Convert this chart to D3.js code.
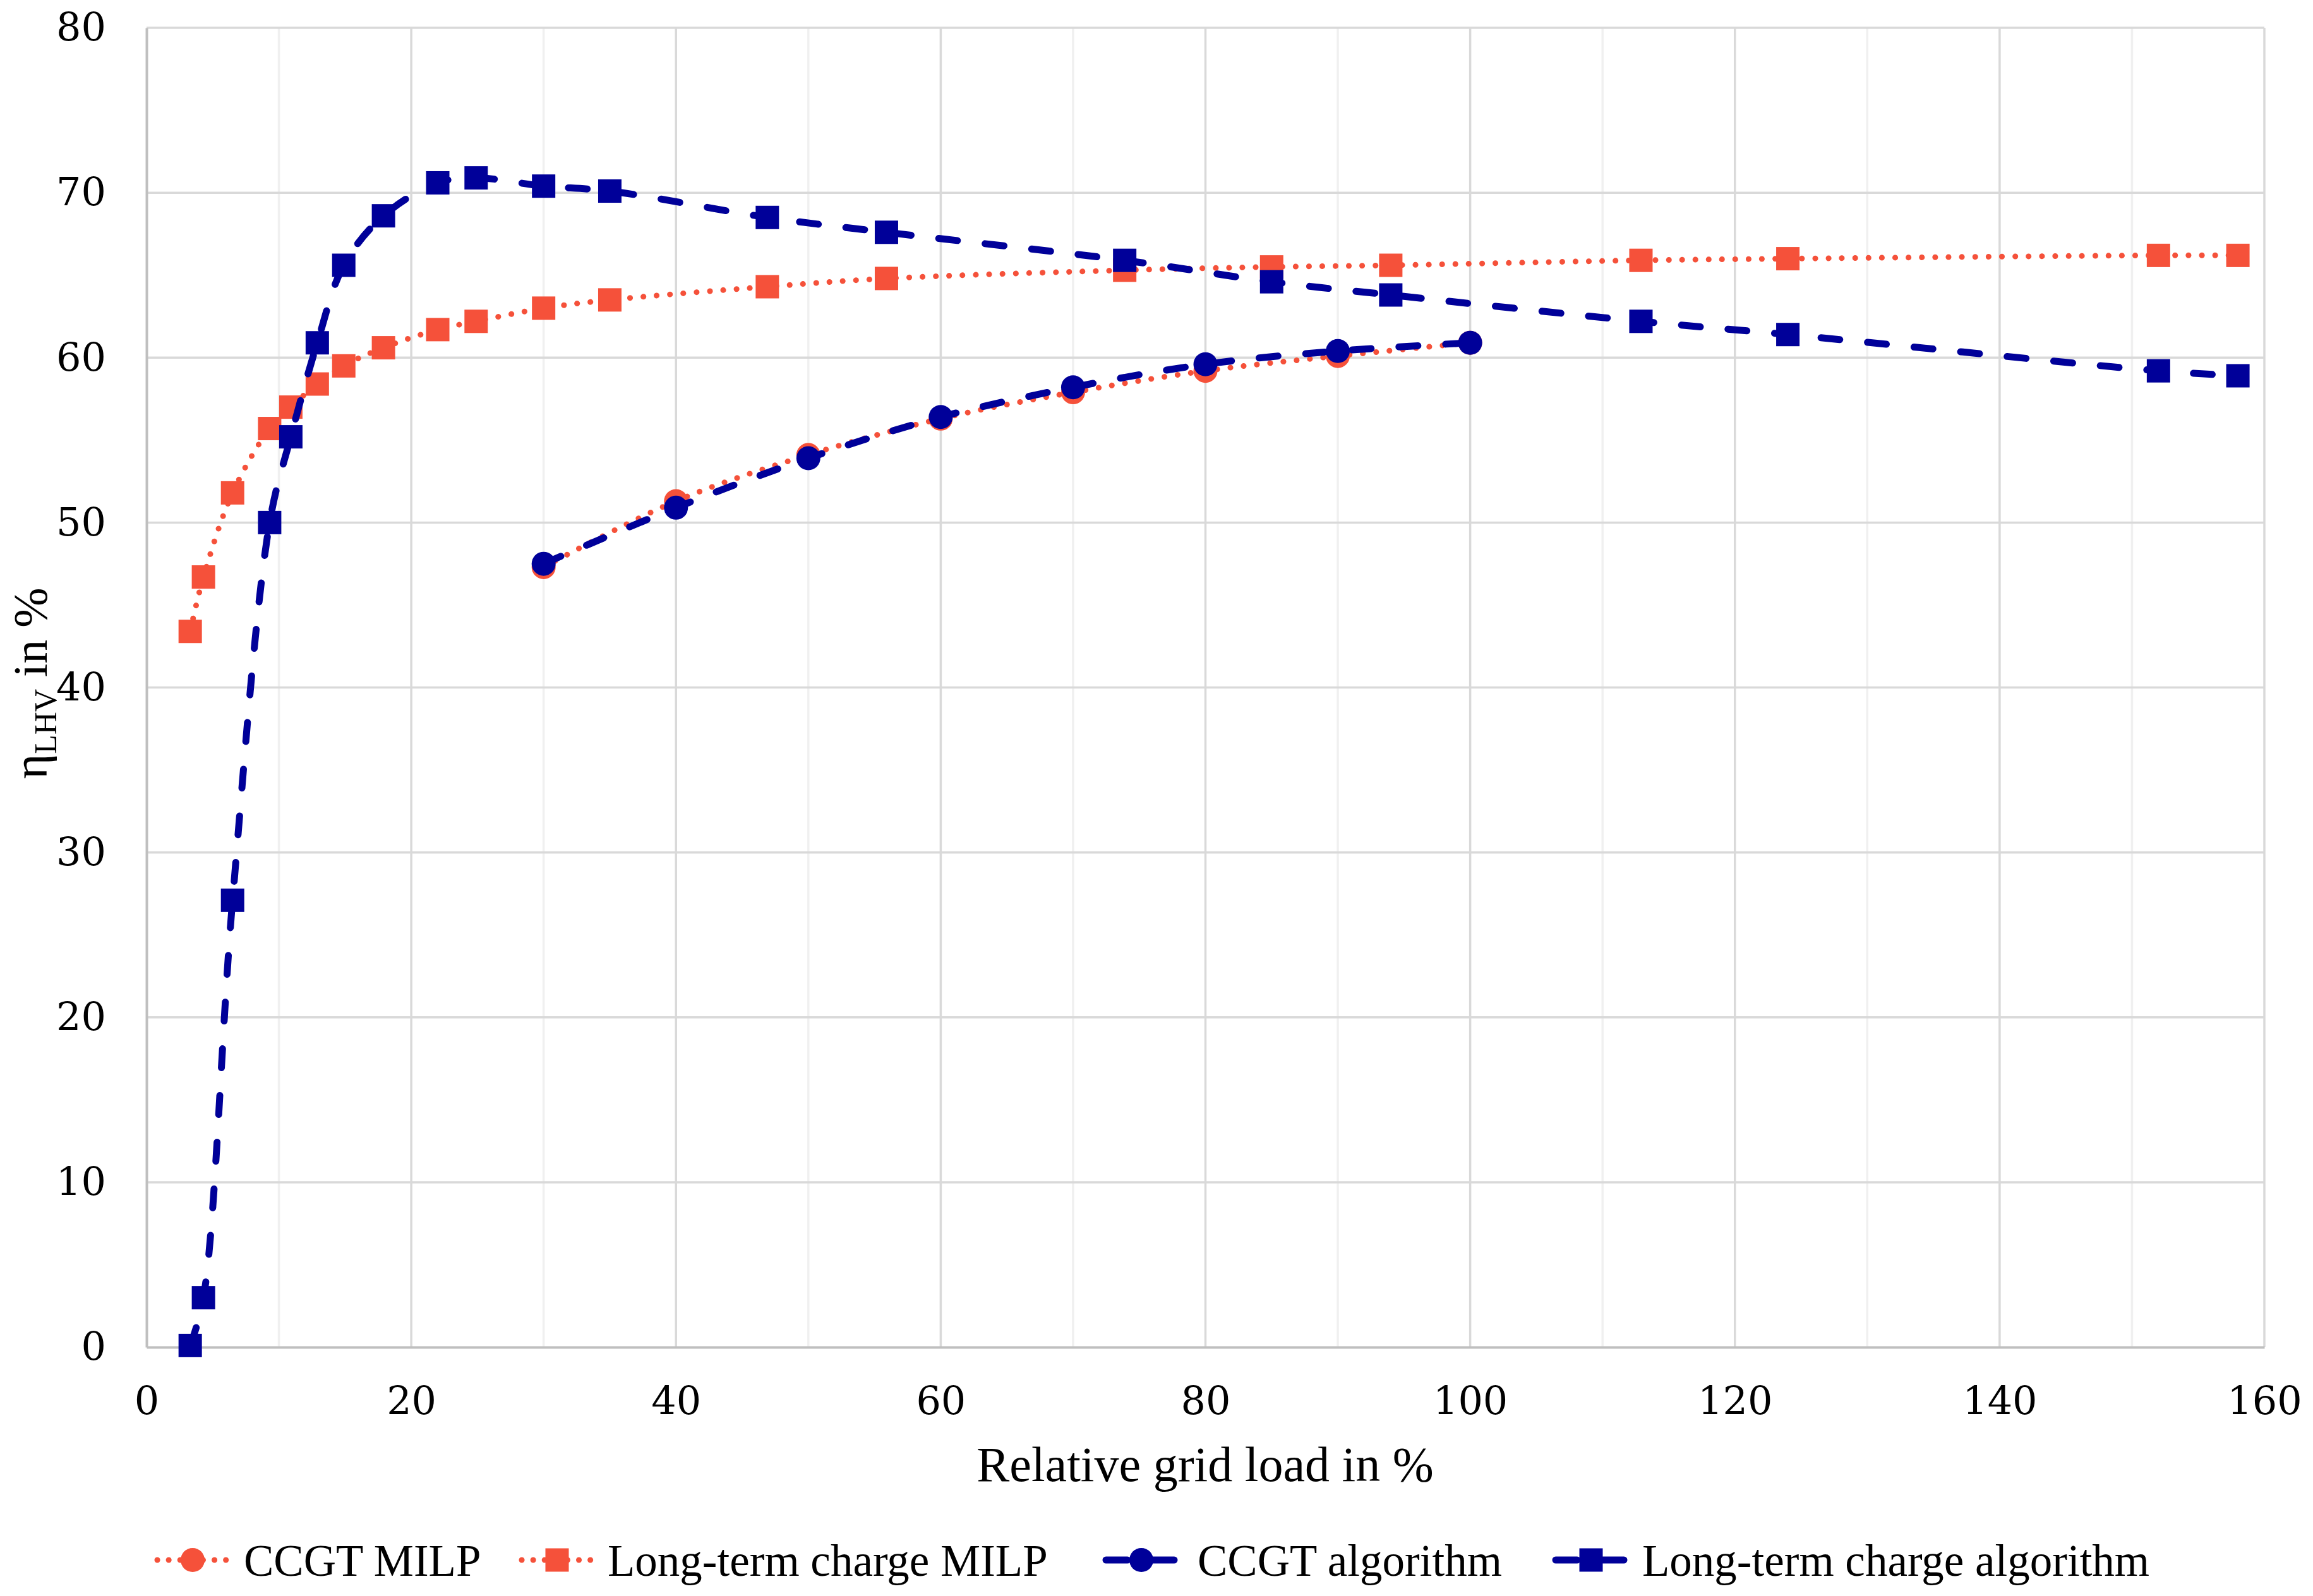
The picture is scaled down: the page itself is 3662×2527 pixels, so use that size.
<!DOCTYPE html>
<html>
<head>
<meta charset="utf-8">
<script src="https://cdn.jsdelivr.net/npm/d3@7"></script>
<style>
  body { margin: 0; background: #fff; }
  text { font-family: "Liberation Serif", "DejaVu Serif", serif; fill: #000; }
  .tick text { font-family: "DejaVu Serif", serif; }
</style>
</head>
<body>
<div id="chart"></div>
<script>
// x values of the long-term charge runs (relative grid load, %)
const ltLoad = [3.3, 4.3, 6.5, 9.3, 10.9, 12.9, 14.9, 17.9, 22, 24.9, 30, 35, 46.9, 55.9, 73.9, 85, 94, 112.9, 124, 152, 158];
const ltMilp = [43.4, 46.7, 51.8, 55.7, 57.0, 58.4, 59.5, 60.6, 61.7, 62.2, 63.0, 63.5, 64.3, 64.8, 65.3, 65.5, 65.6, 65.9, 66.0, 66.2, 66.2];
const ltAlgo = [0.1, 3.0, 27.1, 50.0, 55.2, 60.9, 65.6, 68.6, 70.6, 70.9, 70.4, 70.1, 68.5, 67.6, 65.9, 64.6, 63.8, 62.2, 61.4, 59.2, 58.9];

// CCGT runs
const ccgtLoad = [30, 40, 50, 60, 70, 80, 90, 100];
const ccgtMilp = [47.3, 51.3, 54.1, 56.3, 57.9, 59.2, 60.1, 60.9];
const ccgtAlgo = [47.5, 50.9, 53.9, 56.4, 58.2, 59.6, 60.4, 60.9];

const xTicks = [0, 20, 40, 60, 80, 100, 120, 140, 160];
const yTicks = [0, 10, 20, 30, 40, 50, 60, 70, 80];

const orange = "#F5513A";
const navy = "#000099";

const series = [
  { name: "CCGT MILP", xs: ccgtLoad, ys: ccgtMilp, color: orange, dash: "0.1,21", shape: "circle" },
  { name: "Long-term charge MILP", xs: ltLoad, ys: ltMilp, color: orange, dash: "0.1,21", shape: "square" },
  { name: "CCGT algorithm", xs: ccgtLoad, ys: ccgtAlgo, color: navy, dash: "30,44", shape: "circle" },
  { name: "Long-term charge algorithm", xs: ltLoad, ys: ltAlgo, color: navy, dash: "30,44", shape: "square" }
];

const width = 3662;
const height = 2527;
const margin = { top: 44, right: 77, bottom: 394, left: 232 };

const svg = d3.select("#chart").append("svg")
  .attr("width", width)
  .attr("height", height)
  .attr("viewBox", [0, 0, width, height]);

const x = d3.scaleLinear().domain([0, 160]).range([margin.left, width - margin.right]);
const y = d3.scaleLinear().domain([0, 80]).range([height - margin.bottom, margin.top]);

// minor vertical grid
svg.append("g")
  .selectAll("line")
  .data(d3.range(10, 160, 20))
  .join("line")
  .attr("x1", d => x(d)).attr("x2", d => x(d))
  .attr("y1", y(0)).attr("y2", y(80))
  .attr("stroke", "#f0f0f0").attr("stroke-width", 3.5);

// major vertical grid
svg.append("g")
  .selectAll("line")
  .data(xTicks.slice(1))
  .join("line")
  .attr("x1", d => x(d)).attr("x2", d => x(d))
  .attr("y1", y(0)).attr("y2", y(80))
  .attr("stroke", "#d9d9d9").attr("stroke-width", 3.5);

// horizontal grid
svg.append("g")
  .selectAll("line")
  .data(yTicks.slice(1))
  .join("line")
  .attr("x1", x(0)).attr("x2", x(160))
  .attr("y1", d => y(d)).attr("y2", d => y(d))
  .attr("stroke", "#d9d9d9").attr("stroke-width", 3.5);

// axes
const xAxis = g => g.attr("transform", `translate(0,${y(0)})`)
  .call(d3.axisBottom(x).tickValues(xTicks).tickSize(0).tickPadding(62))
  .call(g => g.select(".domain").attr("stroke", "#bfbfbf").attr("stroke-width", 4))
  .attr("font-size", 62).attr("font-family", null);

const yAxis = g => g.attr("transform", `translate(${x(0)},0)`)
  .call(d3.axisLeft(y).tickValues(yTicks).tickSize(0).tickPadding(64))
  .call(g => g.select(".domain").attr("stroke", "#bfbfbf").attr("stroke-width", 4))
  .attr("font-size", 62).attr("font-family", null);

svg.append("g").call(xAxis);
svg.append("g").call(yAxis);

// axis titles
svg.append("text")
  .attr("x", 1908).attr("y", 2345)
  .attr("text-anchor", "middle")
  .attr("font-size", 78)
  .text("Relative grid load in %");

const yt = svg.append("text")
  .attr("transform", "translate(74,1082) rotate(-90)")
  .attr("text-anchor", "middle")
  .attr("font-size", 76);
yt.append("tspan").text("η");
yt.append("tspan").attr("font-size", 50).attr("dy", 15).text("LHV");
yt.append("tspan").attr("dy", -15).text(" in %");

// series
const line = d3.line()
  .x(d => x(d[0]))
  .y(d => y(d[1]))
  .curve(d3.curveCatmullRom.alpha(0.5));

function marker(g, s, cx, cy) {
  if (s.shape === "circle") {
    g.append("circle").attr("cx", cx).attr("cy", cy).attr("r", 19).attr("fill", s.color);
  } else {
    g.append("rect").attr("x", cx - 18.5).attr("y", cy - 18.5)
      .attr("width", 37).attr("height", 37).attr("fill", s.color);
  }
}

series.forEach(s => {
  const pts = s.xs.map((v, i) => [v, s.ys[i]]);
  const g = svg.append("g");
  g.append("path")
    .attr("d", line(pts))
    .attr("fill", "none")
    .attr("stroke", s.color)
    .attr("stroke-width", s.color === navy ? 11 : 9)
    .attr("stroke-linecap", "round")
    .attr("stroke-dasharray", s.dash);
  pts.forEach(p => marker(g, s, x(p[0]), y(p[1])));
});

// legend
const legendY = 2470;
const legendPos = [
  { sx: 305, tx: 386 },
  { sx: 882, tx: 962 },
  { sx: 1807, tx: 1896 },
  { sx: 2519, tx: 2600 }
];

series.forEach((s, i) => {
  const p = legendPos[i];
  const g = svg.append("g");
  g.append("line")
    .attr("x1", p.sx - 56).attr("x2", p.sx + 56)
    .attr("y1", legendY).attr("y2", legendY)
    .attr("stroke", s.color)
    .attr("stroke-width", s.color === navy ? 11 : 9)
    .attr("stroke-linecap", "round")
    .attr("stroke-dasharray", s.color === navy ? "34,40" : "0.1,18");
  marker(g, s, p.sx, legendY);
  g.append("text")
    .attr("x", p.tx).attr("y", legendY)
    .attr("dy", "0.35em")
    .attr("font-size", 71)
    .text(s.name);
});
</script>
</body>
</html>
